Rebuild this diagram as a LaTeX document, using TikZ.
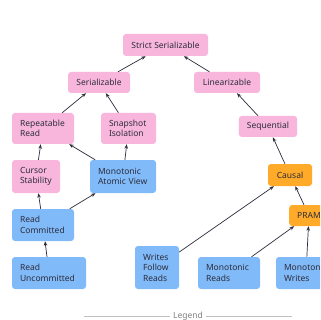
\documentclass[tikz,border=0pt]{standalone}
\usepackage{fontspec}
\setmainfont{Noto Sans}
\usepackage{xcolor}
\usetikzlibrary{arrows.meta}
\definecolor{pinkfill}{RGB}{248,182,220}
\definecolor{bluefill}{RGB}{128,186,248}
\definecolor{orangefill}{RGB}{255,170,40}
\definecolor{inkgray}{RGB}{45,45,60}

\begin{document}
\begin{tikzpicture}[x=1pt,y=-1pt,
    box/.style={rounded corners=3pt, inner xsep=8pt, inner ysep=0pt,
      text=inkgray, font=\fontsize{8.5}{10.5}\selectfont},
    one/.style={box, align=center, minimum width=#1, minimum height=21pt},
    two/.style={box, align=left, text width=#1-16pt, minimum height=32pt},
    pinkbox/.style={fill=pinkfill},
    bluebox/.style={fill=bluefill},
    orangebox/.style={fill=orangefill},
    edge/.style={draw=inkgray, line width=0.7pt, -{Stealth[length=4.5pt,width=3.5pt]}}]
    \useasboundingbox[fill=white] (0,0) rectangle (320,320);
    \clip (0,0) rectangle (320,320);

    \node[one=85pt, pinkbox, minimum height=22pt] (strict) at (165.5,45) {Strict Serializable};
    \node[one=62pt, pinkbox] (ser) at (99,82.5) {Serializable};
    \node[one=66pt, pinkbox] (lin) at (227,82.5) {Linearizable};
    \node[two=62pt, pinkbox, minimum height=31pt] (rr) at (43,128.5) {Repeatable\\Read};
    \node[two=55pt, pinkbox, minimum height=31pt] (si) at (128.5,128.5) {Snapshot\\Isolation};
    \node[one=58pt, pinkbox] (seq) at (268,126.5) {Sequential};
    \node[two=48pt, pinkbox, minimum height=33pt] (cs) at (36,176.5) {Cursor\\Stability};
    \node[two=66pt, bluebox, minimum height=33pt] (mav) at (123,176.5) {Monotonic\\Atomic View};
    \node[one=44pt, orangebox, minimum height=22pt] (causal) at (290,175) {Causal};
    \node[two=62pt, bluebox] (rc) at (43,225) {Read\\Committed};
    \node[one=36pt, orangebox] (pram) at (309,215.5) {PRAM};
    \node[two=74pt, bluebox] (ru) at (49,273) {Read\\Uncommitted};
    \node[two=44pt, bluebox, minimum height=43pt] (wfr) at (157,267.5) {Writes\\Follow\\Reads};
    \node[two=62pt, bluebox] (mr) at (229,273) {Monotonic\\Reads};
    \node[two=60pt, bluebox] (mw) at (306,273) {Monotonic\\Writes};

    \foreach \a/\b in {ser/strict, lin/strict, rr/ser, si/ser, seq/lin,
        causal/seq, cs/rr, mav/rr, mav/si, rc/cs, rc/mav, ru/rc,
        wfr/causal, mr/pram, mw/pram, pram/causal}
      \draw[edge] (\a) -- (\b);

    % legend
    \node[text=gray, font=\fontsize{8.5}{10}\selectfont] (legend) at (188,316) {Legend};
    \draw[gray!50, line width=0.6pt] (84,316) -- (legend.west);
    \draw[gray!50, line width=0.6pt] (legend.east) -- (292,316);
\end{tikzpicture}
\end{document}
